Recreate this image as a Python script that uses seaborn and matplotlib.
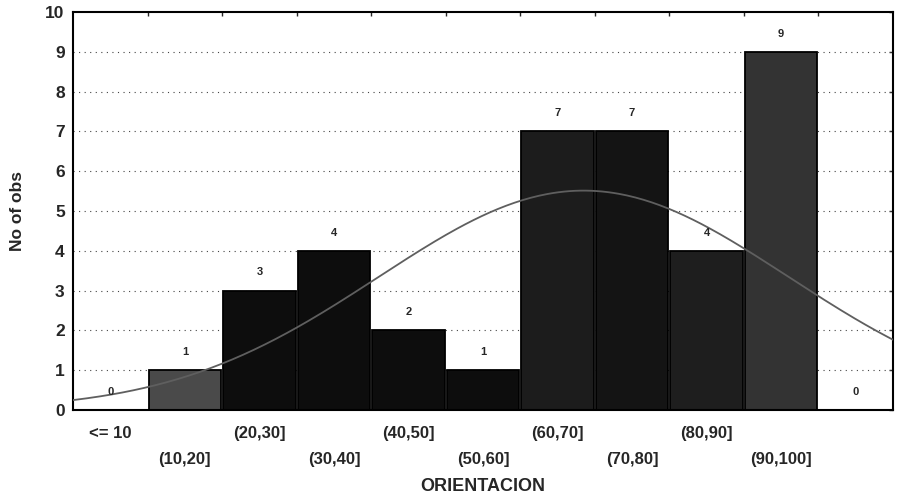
import numpy
import pandas
import matplotlib
matplotlib.use("Agg")
import matplotlib.pyplot as plt
import seaborn

# valores
categorias = ["<= 10", "(10,20]", "(20,30]", "(30,40]", "(40,50]", "(50,60]",
              "(60,70]", "(70,80]", "(80,90]", "(90,100]", "> 100"]
contagens = [0, 1, 3, 4, 2, 1, 7, 7, 4, 9, 0]
rotulos_x = ["<= 10", "(10,20]", "(20,30]", "(30,40]", "(40,50]", "(50,60]",
             "(60,70]", "(70,80]", "(80,90]", "(90,100]", ""]
# curva normal ajustada (parametros estimados da figura)
media = 68.5
desvio = 27.5
largura_classe = 10
n_obs = sum(contagens)

df = pandas.DataFrame({"ORIENTACION": categorias, "No of obs": contagens})

seaborn.set_style("white")
plt.rcParams["font.family"] = ["Liberation Sans", "DejaVu Sans"]

fig = plt.figure(figsize=(8.97, 5.03), dpi=100)
ax = fig.add_axes([0.0814, 0.185, 0.9141, 0.791])

cores = ["#1a1a1a", "#4a4a4a", "#0d0d0d", "#0d0d0d", "#0d0d0d", "#0d0d0d",
         "#1c1c1c", "#141414", "#1e1e1e", "#333333", "#1a1a1a"]
seaborn.barplot(data=df, x="ORIENTACION", y="No of obs", hue="ORIENTACION",
                palette=cores, legend=False, width=0.97, edgecolor="black",
                linewidth=1.3, ax=ax, zorder=2)

# grade pontilhada
for yv in range(1, 10):
    ax.axhline(yv, color="#444444", linestyle=(0, (1, 4)), linewidth=0.8, zorder=1)

# curva normal
xv = numpy.linspace(0, 110, 300)
yv = n_obs * largura_classe / (desvio * numpy.sqrt(2 * numpy.pi)) * numpy.exp(-0.5 * ((xv - media) / desvio) ** 2)
ax.plot((xv - 5) / 10, yv, color="#5f5f5f", linewidth=1.3, zorder=3)

# rotulos das barras
for i, c in enumerate(contagens):
    ax.annotate(str(c), (i, c), xytext=(0, 9.5), textcoords="offset points",
                ha="center", va="bottom", fontsize=8, fontweight="bold", zorder=4)

ax.set_xlim(-0.5, 10.5)
ax.set_ylim(0, 10)
ax.set_yticks(range(0, 11))
ax.set_yticklabels([str(v) for v in range(0, 11)], fontsize=12.5, fontweight="bold")
ax.set_xticks(range(len(categorias)))
ax.set_xticklabels([])
ax.set_xticks(numpy.arange(0.5, 10.5, 1), minor=True)
for i, r in enumerate(rotulos_x):
    ax.text(i, -0.58 if i % 2 == 0 else -1.25, r, ha="center", va="center",
            fontsize=12, fontweight="bold")

ax.tick_params(axis="y", direction="in", length=3, width=1, right=True, pad=6)
ax.tick_params(axis="x", which="major", length=0)
ax.tick_params(axis="x", which="minor", direction="in", length=3, width=1,
               bottom=False, top=True)
for s in ax.spines.values():
    s.set_color("black")
    s.set_linewidth(1.5)

ax.set_xlabel("ORIENTACION", fontsize=13, fontweight="bold")
ax.xaxis.set_label_coords(0.5, -0.172)
ax.set_ylabel("No of obs", fontsize=12.5, fontweight="bold")
ax.yaxis.set_label_coords(-0.058, 0.5)

fig.savefig("out.png", dpi=100)
